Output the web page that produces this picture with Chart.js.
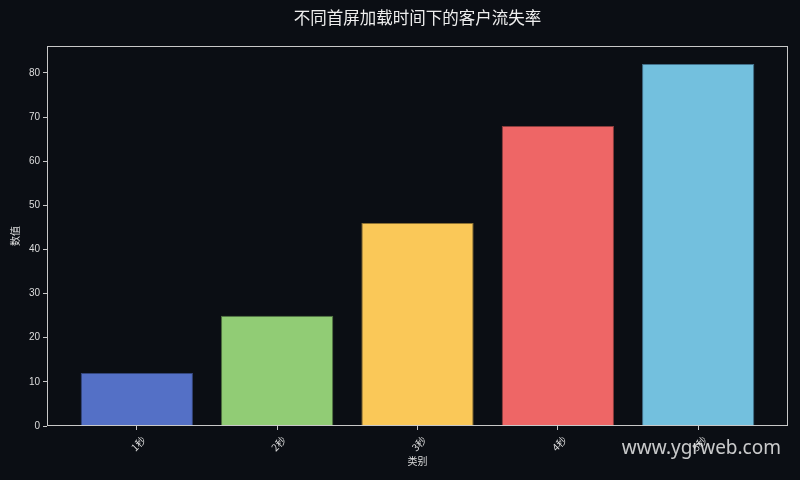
<!DOCTYPE html>
<html>
<head>
<meta charset="utf-8">
<script src="https://cdn.jsdelivr.net/npm/chart.js@4/dist/chart.umd.min.js"></script>
<style>
  html, body { margin: 0; padding: 0; background: #0b0e14; }
  canvas { display: block; }
</style>
</head>
<body>
<canvas id="chart" width="800" height="480"></canvas>
<script>
// data
const categories = ["1秒", "2秒", "3秒", "4秒", "5秒"];
const churnRates = [12, 25, 46, 68, 82];
const yTicks = [0, 10, 20, 30, 40, 50, 60, 70, 80];

const barColors = ["#5470c6", "#91cc75", "#fac858", "#ee6666", "#73c0de"];
const edgeColors = ["#34467c", "#4f7040", "#8c7032", "#8a3c3c", "#42708a"];

const FONT = "'Liberation Sans', 'Noto Sans CJK SC', sans-serif";
const CJK = "'Noto Sans CJK SC', sans-serif";

// frame, title and watermark
const decorPlugin = {
    id: "decor",
    beforeDraw(chart) {
        const c = chart.ctx;
        c.save();
        c.fillStyle = "#0b0e14";
        c.fillRect(0, 0, chart.width, chart.height);
        c.restore();
    },
    afterDraw(chart) {
        const c = chart.ctx;
        const a = chart.chartArea;
        c.save();
        c.strokeStyle = "#c8c8c8";
        c.lineWidth = 1;
        c.strokeRect(a.left + 0.5, a.top + 0.5, a.right - a.left - 1, a.bottom - a.top - 1);

        c.fillStyle = "#eeeeee";
        c.font = "16.5px " + CJK;
        c.textAlign = "center";
        c.textBaseline = "middle";
        c.fillText("不同首屏加载时间下的客户流失率", (a.left + a.right) / 2, 18);

        c.fillStyle = "rgba(235, 235, 235, 0.85)";
        c.font = "19px 'Noto Sans', sans-serif";
        c.textAlign = "right";
        c.fillText("www.ygrweb.com", 781, 449);
        c.restore();
    }
};

let ctx = document.getElementById("chart").getContext("2d");

let chart = new Chart(ctx, {
    type: "bar",
    data: {
        datasets: [{
            data: churnRates.map((v, i) => ({ x: i, y: v })),
            backgroundColor: barColors,
            borderColor: edgeColors,
            borderWidth: 1,
            barPercentage: 0.8,
            categoryPercentage: 1.0
        }]
    },
    options: {
        responsive: false,
        animation: false,
        layout: { padding: { left: 0, right: 12, top: 46, bottom: 0 } },
        plugins: {
            legend: { display: false },
            tooltip: { enabled: false }
        },
        scales: {
            x: {
                type: "linear",
                offset: false,
                min: -0.64,
                max: 4.64,
                afterBuildTicks: (scale) => { scale.ticks = categories.map((c, i) => ({ value: i })); },
                afterFit: (scale) => { scale.height = 54; },
                ticks: {
                    callback: (v) => categories[v],
                    autoSkip: false,
                    minRotation: 45,
                    maxRotation: 45,
                    labelOffset: 7,
                    padding: 4,
                    color: "#dddddd",
                    font: { size: 10, family: CJK }
                },
                grid: { offset: false, drawOnChartArea: false, drawTicks: true, tickLength: 4, color: "#c8c8c8" },
                border: { display: false },
                title: {
                    display: true,
                    text: "类别",
                    color: "#dddddd",
                    font: { size: 10, family: CJK },
                    padding: { top: 0, bottom: 13 }
                }
            },
            y: {
                min: 0,
                max: 86.1,
                afterBuildTicks: (scale) => { scale.ticks = yTicks.map(v => ({ value: v })); },
                afterFit: (scale) => { scale.width = 47; },
                ticks: {
                    padding: 3,
                    color: "#dddddd",
                    font: { size: 10, family: FONT }
                },
                grid: { drawOnChartArea: false, drawTicks: true, tickLength: 4, color: "#c8c8c8" },
                border: { display: false },
                title: {
                    display: true,
                    text: "数值",
                    color: "#dddddd",
                    font: { size: 10, family: CJK },
                    padding: { top: 9, bottom: 0 }
                }
            }
        }
    },
    plugins: [decorPlugin]
});
</script>
</body>
</html>
